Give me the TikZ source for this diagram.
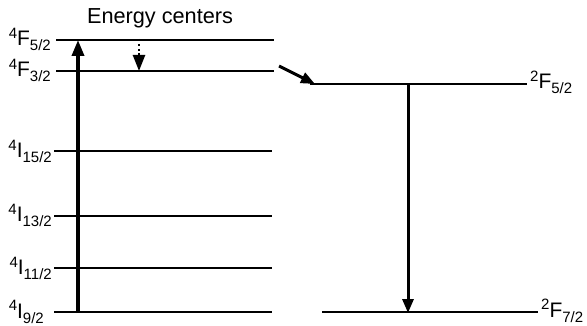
\documentclass[tikz,border=0pt]{standalone}
\usepackage{fontspec}
\setmainfont{Liberation Sans}
\usepackage{tikz}
\usetikzlibrary{arrows.meta,positioning,calc}
\newcommand{\scr}{\fontsize{15}{17}\selectfont}
\newcommand{\term}[3]{\raisebox{7.5pt}{\scr #1}#2\raisebox{-5pt}{\scr #3}}

\begin{document}
\begin{tikzpicture}[
  x=1pt, y=-1pt,
  level/.style={line width=2pt},
  thicklevel/.style={line width=2.8pt},
  lbl/.style={inner sep=0pt, font=\fontsize{21}{24}\selectfont},
  arrow/.style={-{Triangle[length=16pt, width=12pt]}, line width=3.6pt},
  dotarrow/.style={-{Triangle[length=16pt, width=12pt]}, line width=2.4pt, dash pattern=on 2.4pt off 2.4pt},
  thinarrow/.style={-{Triangle[length=14pt, width=11pt]}, line width=3pt},
]
  \useasboundingbox (0,0) rectangle (587,326);

  % energy centres
  \node[lbl, font=\fontsize{21.7}{24}\selectfont] (title) at (160,18) {Energy centers};
  \coordinate (Fa) at (56,40);   \coordinate (Fb) at (274,40);
  \coordinate (Ga) at (56,71);   \coordinate (Gb) at (274,71);
  \coordinate (Ha) at (54,151);  \coordinate (Hb) at (272,151);
  \coordinate (Ia) at (54,216);  \coordinate (Ib) at (272,216);
  \coordinate (Ja) at (54,268);  \coordinate (Jb) at (272,268);
  \coordinate (Ka) at (54,312);  \coordinate (Kb) at (272,312);
  \draw[level] (Fa) -- (Fb);
  \draw[thicklevel] (Ga) -- (Gb);
  \draw[level] (Ha) -- (Hb);
  \draw[level] (Ia) -- (Ib);
  \draw[level] (Ja) -- (Jb);
  \draw[level] (Ka) -- (Kb);
  \node[lbl, anchor=base east] (lF) at (51,46) {\term{4}{F}{5/2}};
  \node[lbl, anchor=base east] (lG) at (51,77) {\term{4}{F}{3/2}};
  \node[lbl, anchor=base east] (lH) at (52,158) {\term{4}{I}{15/2}};
  \node[lbl, anchor=base east] (lI) at (52,222) {\term{4}{I}{13/2}};
  \node[lbl, anchor=base east] (lJ) at (52,275) {\term{4}{I}{11/2}};
  \node[lbl, anchor=base east] (lK) at (44,318) {\term{4}{I}{9/2}};

  % acceptor
  \coordinate (Ra) at (310,84);  \coordinate (Rb) at (527,84);
  \coordinate (Sa) at (322,312); \coordinate (Sb) at (538,312);
  \draw[level] (Ra) -- (Rb);
  \draw[level] (Sa) -- (Sb);
  \node[lbl, anchor=base west] (lR) at (530,89) {\term{2}{F}{5/2}};
  \node[lbl, anchor=base west] (lS) at (541,317) {\term{2}{F}{7/2}};

  % transitions
  \coordinate (pump0) at (78,313);  \coordinate (pump1) at (78,40);
  \coordinate (relax0) at (139,39); \coordinate (relax1) at (139,71);
  \coordinate (tr0) at (279,66);    \coordinate (tr1) at (315,84);
  \coordinate (em0) at (408,84);    \coordinate (em1) at (408,313);
  \draw[arrow] (pump0) -- (pump1);
  \draw[dotarrow] (relax0) -- (relax1);
  \draw[thinarrow] (tr0) -- (tr1);
  \draw[thinarrow] (em0) -- (em1);
\end{tikzpicture}
\end{document}
